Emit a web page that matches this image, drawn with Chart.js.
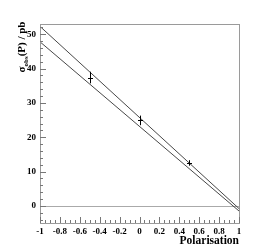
<!DOCTYPE html>
<html>
<head>
<meta charset="utf-8">
<script src="https://cdn.jsdelivr.net/npm/chart.js@4"></script>
<style>
html,body{margin:0;padding:0;background:#fff;}
#c{display:block;}
</style>
</head>
<body>
<canvas id="c" width="278" height="249"></canvas>
<script>
// ---- data ----
const polarisation = [-0.5, 0, 0.5];
const sigmaObs = [37.4, 24.9, 12.5];
const sigmaErr = [1.7, 1.4, 0.8];
const lineX = [-1, 1];
const upperLine = [52.3, -0.8];
const lowerLine = [47.8, -1.5];
const xTicks = [-1, -0.8, -0.6, -0.4, -0.2, 0, 0.2, 0.4, 0.6, 0.8, 1];
const yTicks = [0, 10, 20, 30, 40, 50];
const xTitle = "Polarisation";
const yTitleMain = "σ", yTitleSub = "obs", yTitleRest = "(P) / pb";

const FONT = "'Liberation Serif', 'DejaVu Serif', serif";
const FRAME = "#9a9a9a";

const framePlugin = {
  id: 'frame',
  beforeDatasetsDraw(chart) {
    const {ctx, chartArea: a, scales: {x, y}} = chart;
    ctx.save();
    ctx.strokeStyle = "#aaaaaa";
    ctx.lineWidth = 1;
    const y0 = Math.round(y.getPixelForValue(0)) + 0.5;
    ctx.beginPath(); ctx.moveTo(a.left, y0); ctx.lineTo(a.right, y0); ctx.stroke();
    ctx.restore();
  },
  afterDraw(chart) {
    const {ctx, chartArea: a, scales: {x, y}} = chart;
    ctx.save();
    ctx.strokeStyle = FRAME;
    ctx.lineWidth = 1;
    ctx.strokeRect(Math.round(a.left) + 0.5, Math.round(a.top) + 0.5,
                   Math.round(a.right - a.left), Math.round(a.bottom - a.top));
    ctx.strokeStyle = "#777";
    for (let i = 0; i <= 40; i++) {
      const v = -1 + i * 0.05;
      const px = Math.round(x.getPixelForValue(v)) + 0.5;
      const len = (i % 4 === 0) ? 6 : 3;
      ctx.beginPath(); ctx.moveTo(px, a.bottom); ctx.lineTo(px, a.bottom - len); ctx.stroke();
    }
    for (let v = -4; v <= 52; v += 2) {
      const py = Math.round(y.getPixelForValue(v)) + 0.5;
      const len = (v % 10 === 0) ? 6 : 3;
      ctx.beginPath(); ctx.moveTo(a.left, py); ctx.lineTo(a.left + len, py); ctx.stroke();
    }
    ctx.fillStyle = "#000";
    ctx.font = "bold 11.5px " + FONT;
    ctx.textAlign = "right";
    ctx.textBaseline = "alphabetic";
    ctx.fillText(xTitle, a.right, 244);
    ctx.translate(25, 47);
    ctx.rotate(-Math.PI / 2);
    const f1 = "bold 11px " + FONT, f2 = "bold 7px " + FONT;
    ctx.font = f1; const w1 = ctx.measureText(yTitleMain).width;
    const w3 = ctx.measureText(yTitleRest).width;
    ctx.font = f2; const w2 = ctx.measureText(yTitleSub).width;
    let sx = -(w1 + w2 + w3) / 2;
    ctx.textAlign = "left";
    ctx.font = f1; ctx.fillText(yTitleMain, sx, 0); sx += w1;
    ctx.font = f2; ctx.fillText(yTitleSub, sx, 2.5); sx += w2;
    ctx.font = f1; ctx.fillText(yTitleRest, sx, 0);
    ctx.restore();
  }
};

const errPlugin = {
  id: 'errbars',
  afterDatasetsDraw(chart) {
    const {ctx, scales: {x, y}} = chart;
    ctx.save();
    ctx.strokeStyle = "#000";
    ctx.lineWidth = 1;
    for (let i = 0; i < polarisation.length; i++) {
      const px = Math.round(x.getPixelForValue(polarisation[i])) + 0.5;
      const py = Math.round(y.getPixelForValue(sigmaObs[i])) + 0.5;
      const t = y.getPixelForValue(sigmaObs[i] + sigmaErr[i]);
      const b = y.getPixelForValue(sigmaObs[i] - sigmaErr[i]);
      ctx.beginPath(); ctx.moveTo(px, t); ctx.lineTo(px, b); ctx.stroke();
      ctx.beginPath(); ctx.moveTo(px - 2.5, py); ctx.lineTo(px + 2.5, py); ctx.stroke();
    }
    ctx.restore();
  }
};

new Chart(document.getElementById('c'), {
  type: 'scatter',
  data: {
    datasets: [
      { type: 'line', data: lineX.map((v, i) => ({x: v, y: upperLine[i]})),
        borderColor: '#333', borderWidth: 0.9, pointRadius: 0, fill: false },
      { type: 'line', data: lineX.map((v, i) => ({x: v, y: lowerLine[i]})),
        borderColor: '#333', borderWidth: 0.9, pointRadius: 0, fill: false },
      { data: polarisation.map((v, i) => ({x: v, y: sigmaObs[i]})), pointRadius: 0 }
    ]
  },
  options: {
    responsive: false,
    animation: false,
    devicePixelRatio: 1,
    layout: { padding: { left: 0, right: 39, top: 24, bottom: 0 } },
    plugins: { legend: { display: false }, tooltip: { enabled: false } },
    scales: {
      x: {
        type: 'linear', min: -1, max: 1,
        afterBuildTicks(s) { s.ticks = xTicks.map(v => ({value: v})); },
        afterFit(s) { s.height = 26; },
        grid: { display: false, drawTicks: false },
        border: { display: false },
        ticks: { color: '#000', padding: 3, maxRotation: 0, autoSkip: false,
                 font: { family: FONT, weight: 'bold', size: 9 },
                 callback: v => String(v) }
      },
      y: {
        type: 'linear', min: -5, max: 53,
        afterBuildTicks(s) { s.ticks = yTicks.map(v => ({value: v})); },
        afterFit(s) { s.width = 40; },
        grid: { display: false, drawTicks: false },
        border: { display: false },
        ticks: { color: '#000', padding: 4,
                 font: { family: FONT, weight: 'bold', size: 9 },
                 callback: v => String(v) }
      }
    }
  },
  plugins: [framePlugin, errPlugin]
});
</script>
</body>
</html>
